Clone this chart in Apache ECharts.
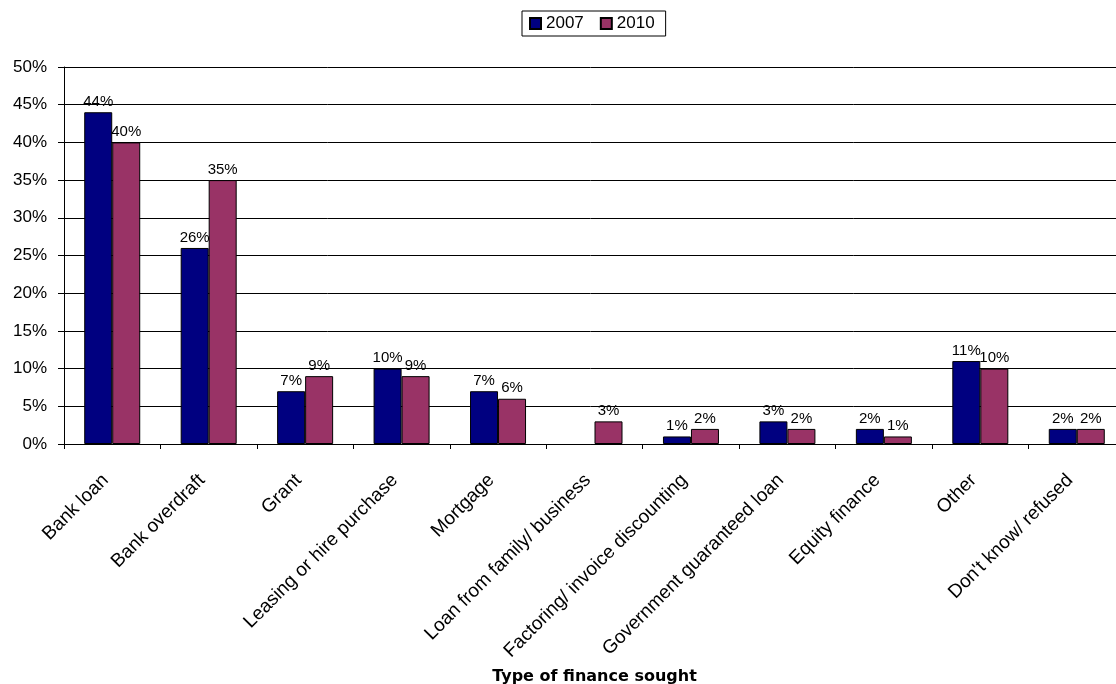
<!DOCTYPE html>
<html><head><meta charset="utf-8">
<script src="https://cdn.jsdelivr.net/npm/echarts@6/dist/echarts.min.js"></script>
<style>html,body{margin:0;padding:0;background:#fff}#c{width:1116px;height:684px}</style>
</head><body><div id="c"></div>
<script>
const categories = ["Bank loan","Bank overdraft","Grant","Leasing or hire purchase","Mortgage","Loan from family/ business","Factoring/ invoice discounting","Government guaranteed loan","Equity finance","Other","Don't know/ refused"];
const values2007 = [44, 26, 7, 10, 7, null, 1, 3, 2, 11, 2];
const values2010 = [40, 35, 9, 9, 6, 3, 2, 2, 1, 10, 2];
const seriesNames = ["2007","2010"];
const yTicks = {min: 0, max: 50, interval: 5};

const chart = echarts.init(document.getElementById('c'));
const font = 'Liberation Sans, Arial, sans-serif';
const lbl = {show: true, position: 'top', formatter: p => p.value + '%', color: '#000', fontFamily: font, fontSize: 15, distance: 3};
chart.setOption({
  animation: false,
  backgroundColor: '#fff',
  textStyle: {fontFamily: font},
  legend: {
    top: 11, left: 522,
    data: seriesNames,
    icon: 'rect', itemWidth: 11, itemHeight: 11, itemGap: 16,
    borderColor: '#000', borderWidth: 1, padding: [4, 11, 4, 7],
    textStyle: {color: '#000', fontSize: 17, fontFamily: font, padding: [0,0,0,0]}
  },
  grid: {left: 64, top: 67, width: 1061, height: 377, outerBoundsMode: 'none', containLabel: false},
  xAxis: {
    type: 'category', data: categories,
    axisLine: {lineStyle: {color: '#000'}},
    axisTick: {show: true, alignWithLabel: false, length: 5, lineStyle: {color: '#000'}},
    axisLabel: {rotate: 45, color: '#000', fontSize: 19, fontFamily: font, interval: 0, margin: 40, verticalAlign: 'bottom'},
    name: 'Type of finance sought', nameLocation: 'middle', nameGap: 225,
    nameTextStyle: {color: '#000', fontWeight: 'bold', fontSize: 16, fontFamily: 'DejaVu Sans, sans-serif'}
  },
  yAxis: {
    type: 'value', min: yTicks.min, max: yTicks.max, interval: yTicks.interval,
    axisLine: {show: true, lineStyle: {color: '#000'}},
    axisTick: {show: true, length: 6, lineStyle: {color: '#000'}},
    axisLabel: {formatter: '{value}%', color: '#000', fontSize: 17, fontFamily: font, margin: 17},
    splitLine: {lineStyle: {color: '#000', width: 1}}
  },
  series: [
    {name: seriesNames[0], type: 'bar', data: values2007, barWidth: 28, barGap: '0%',
     itemStyle: {color: '#000080', borderColor: '#000', borderWidth: 1}, label: lbl},
    {name: seriesNames[1], type: 'bar', data: values2010, barWidth: 28, barGap: '0%',
     itemStyle: {color: '#993366', borderColor: '#000', borderWidth: 1}, label: lbl}
  ]
});
</script></body></html>
